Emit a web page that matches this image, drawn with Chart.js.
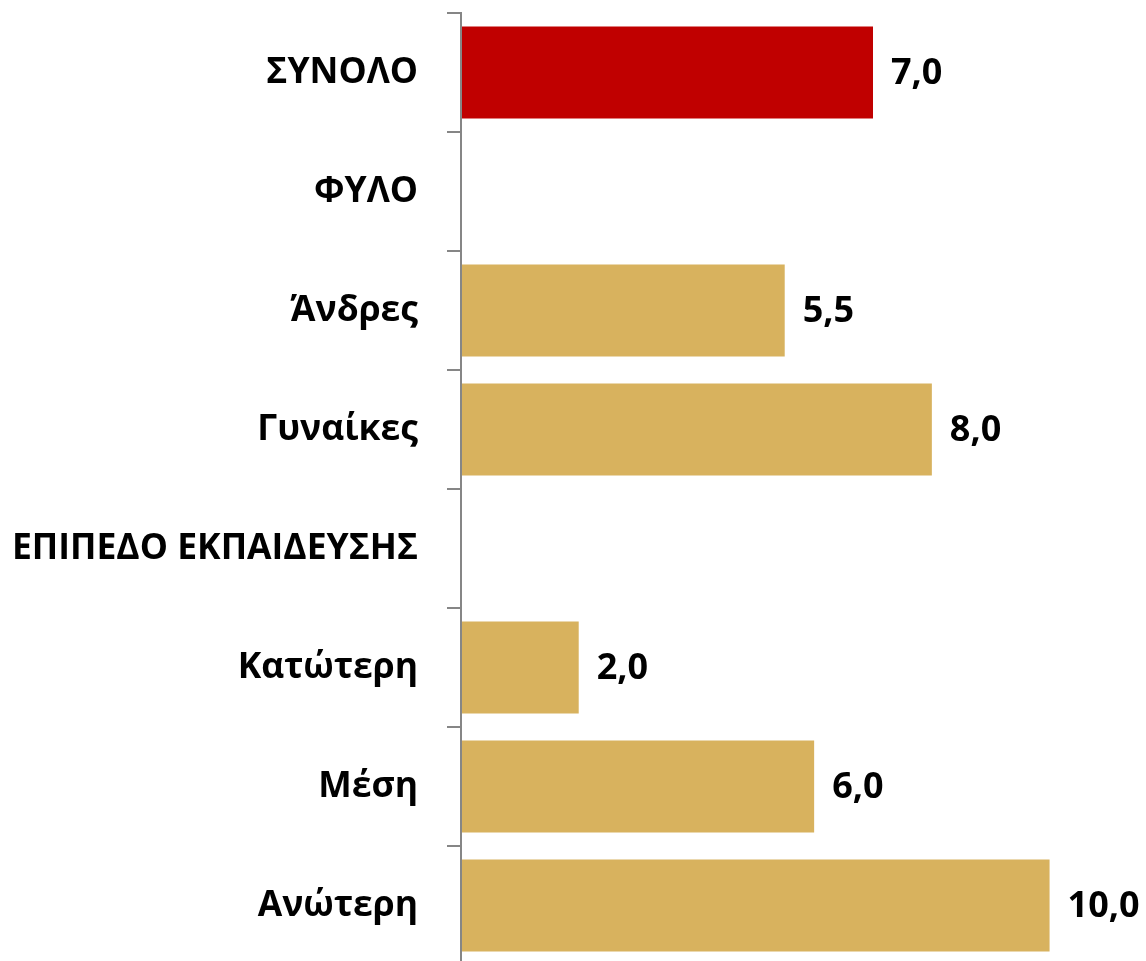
<!DOCTYPE html>
<html>
<head>
<meta charset="utf-8">
<script src="https://cdn.jsdelivr.net/npm/chart.js@4/dist/chart.umd.min.js"></script>
<style>
  html, body { margin: 0; padding: 0; background: #fff; overflow: hidden; }
  #wrap { position: absolute; left: 0; top: 0; width: 1146px; height: 965px; }
</style>
</head>
<body>
<div id="wrap"><canvas id="c"></canvas></div>
<script>
const categories = ["ΣΥΝΟΛΟ", "ΦΥΛΟ", "Άνδρες", "Γυναίκες", "ΕΠΙΠΕΔΟ ΕΚΠΑΙΔΕΥΣΗΣ", "Κατώτερη", "Μέση", "Ανώτερη"];
const values = [7.0, null, 5.5, 8.0, null, 2.0, 6.0, 10.0];

const FONT = "'Open Sans', 'Noto Sans', sans-serif";
const RED = '#C00000';
const GOLD = '#D8B25E';

const valueLabels = {
  id: 'valueLabels',
  afterDatasetsDraw(chart) {
    const ctx = chart.ctx;
    const meta = chart.getDatasetMeta(0);
    ctx.save();
    ctx.font = "bold 36px " + FONT;
    ctx.fillStyle = '#000';
    ctx.textAlign = 'left';
    ctx.textBaseline = 'middle';
    meta.data.forEach((bar, i) => {
      const v = chart.data.datasets[0].data[i];
      if (v === null || v === undefined) return;
      ctx.fillText(v.toFixed(1).replace('.', ','), bar.x + 18, bar.y + 1);
    });
    ctx.restore();
  }
};

new Chart(document.getElementById('c'), {
  type: 'bar',
  data: {
    labels: categories,
    datasets: [{
      data: values,
      backgroundColor: categories.map((c, i) => i === 0 ? RED : GOLD),
      borderWidth: 0,
      barPercentage: 0.775,
      categoryPercentage: 1.0
    }]
  },
  options: {
    indexAxis: 'y',
    responsive: true,
    maintainAspectRatio: false,
    animation: false,
    layout: { padding: { top: 13, right: 67, bottom: 0, left: 0 } },
    plugins: { legend: { display: false }, tooltip: { enabled: false } },
    scales: {
      x: { display: false, min: 0, max: 10.5 },
      y: {
        afterFit(scale) { scale.width = 461; scale.paddingTop = 0; scale.paddingBottom = 0; },
        grid: {
          z: 1,
          drawOnChartArea: false,
          drawTicks: true,
          tickLength: 14,
          color: '#868686',
          lineWidth: 2,
          offset: true
        },
        border: { z: 1, display: true, color: '#868686', width: 2 },
        ticks: {
          color: '#000',
          padding: 29,
          font: { family: FONT, size: 35.5, weight: 'bold' }
        }
      }
    }
  },
  plugins: [valueLabels]
});
</script>
</body>
</html>
